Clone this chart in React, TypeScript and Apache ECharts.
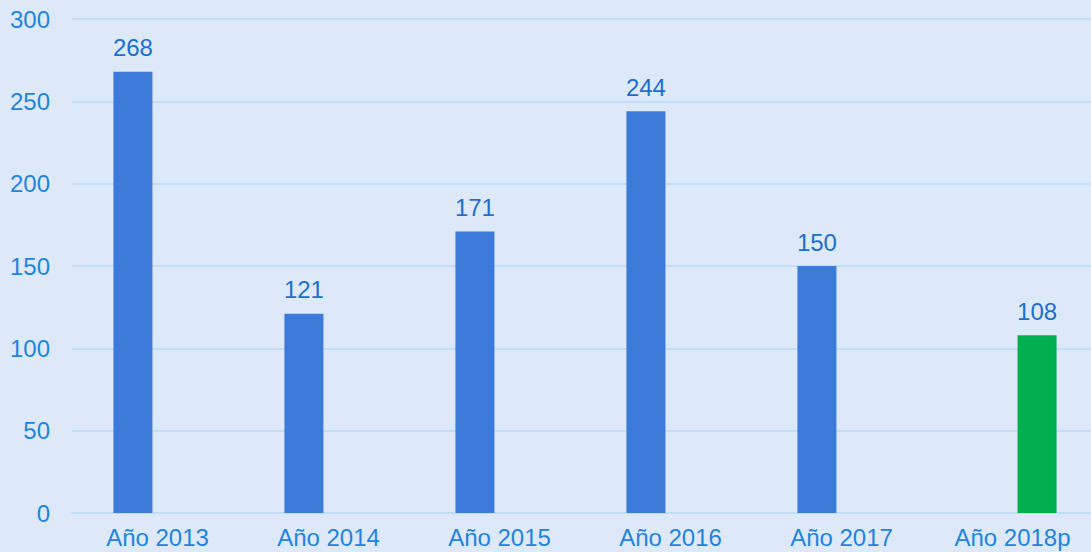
import React, { useEffect, useRef } from "react";
import * as echarts from "echarts";

const categories = ["Año 2013", "Año 2014", "Año 2015", "Año 2016", "Año 2017", "Año 2018p"];
const actualValues = [268, 121, 171, 244, 150, null];
const projectedValues = [null, null, null, null, null, 108];
const yTicks = { min: 0, max: 300, interval: 50 };

export default function App() {
  const ref = useRef<HTMLDivElement>(null);
  useEffect(() => {
    document.body.style.margin = "0";
    document.body.style.overflow = "hidden";
    document.body.style.background = "#dde9f9";
    const chart = echarts.init(ref.current!, null, { renderer: "svg" });
    const labelStyle = {
      show: true,
      position: "top",
      distance: 12,
      color: "#1b6fcf",
      fontSize: 24,
      fontFamily: "Liberation Sans, Arial, sans-serif",
    };
    chart.setOption({
      animation: false,
      backgroundColor: "#dde9f9",
      grid: { left: 72, right: 0, top: 19, bottom: 39, containLabel: false },
      xAxis: {
        type: "category",
        data: categories,
        axisLine: { show: true, lineStyle: { color: "#c3ddf7", width: 2 } },
        axisTick: { show: false },
        axisLabel: {
          color: "#1e84e0",
          fontSize: 24,
          margin: 12,
          fontFamily: "Liberation Sans, Arial, sans-serif",
        },
      },
      yAxis: {
        type: "value",
        min: yTicks.min,
        max: yTicks.max,
        interval: yTicks.interval,
        axisLine: { show: false },
        axisTick: { show: false },
        splitLine: { lineStyle: { color: "#c3ddf7", width: 2 } },
        axisLabel: {
          color: "#1e84e0",
          fontSize: 24,
          margin: 22,
          fontFamily: "Liberation Sans, Arial, sans-serif",
        },
      },
      series: [
        {
          type: "bar",
          data: actualValues,
          barWidth: 39,
          barGap: "26%",
          itemStyle: { color: "#3c7ad9" },
          label: labelStyle,
        },
        {
          type: "bar",
          data: projectedValues,
          barWidth: 39,
          barGap: "26%",
          itemStyle: { color: "#00b050" },
          label: labelStyle,
        },
      ],
    });
    return () => chart.dispose();
  }, []);
  return (
    <div style={{ width: 1091, height: 552, overflow: "hidden" }}>
      <div ref={ref} style={{ width: 1098, height: 552 }} />
    </div>
  );
}
